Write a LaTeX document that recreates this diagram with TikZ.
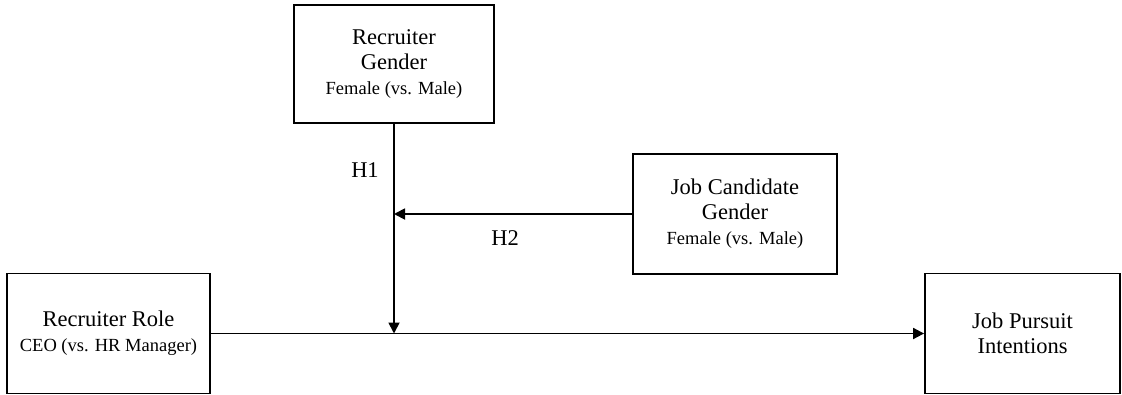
\documentclass[tikz,border=0pt]{standalone}
\usepackage{fontspec}
\setmainfont{Liberation Serif}
\usetikzlibrary{arrows.meta}
\begin{document}
\begin{tikzpicture}[x=1pt,y=1pt,
  box/.style={draw=black,line width=1.8pt,rectangle,align=center,inner sep=0pt,
    font=\fontsize{22.5}{25}\selectfont},
  conn/.style={line width=1.8pt,-{Triangle[length=11pt,width=11pt]}},
  hlabel/.style={font=\fontsize{22.5}{25}\selectfont,inner sep=0pt}]
  \useasboundingbox (0,0) rectangle (1122,-394);
  \newcommand{\subtext}[1]{{\fontsize{18.5}{24}\selectfont #1}}

  % variables
  \node[box,minimum width=200pt,minimum height=118pt] (rg) at (394,-64)
    {Recruiter\\Gender\\\subtext{Female (vs. Male)}};
  \node[box,minimum width=204pt,minimum height=120pt] (jc) at (735,-214)
    {Job Candidate\\Gender\\\subtext{Female (vs. Male)}};
  \node[box,minimum width=203pt,minimum height=120pt] (rr) at (108.5,-333.5)
    {Recruiter Role\\\subtext{CEO (vs. HR Manager)}};
  \node[box,minimum width=195pt,minimum height=120pt] (jp) at (1022.5,-333.5)
    {Job Pursuit\\Intentions};

  % points where the moderating paths meet
  \coordinate (m1) at (rg.south |- rr.east);
  \coordinate (m2) at (rg.south |- jc.west);

  % paths
  \draw[conn] (rr.east) -- (jp.west);
  \draw[conn] (rg.south) -- (m1);
  \draw[conn] (jc.west) -- (m2);

  % hypothesis labels
  \node[hlabel] (h1) at (365,-170) {H1};
  \node[hlabel] (h2) at (505,-238) {H2};
\end{tikzpicture}
\end{document}
